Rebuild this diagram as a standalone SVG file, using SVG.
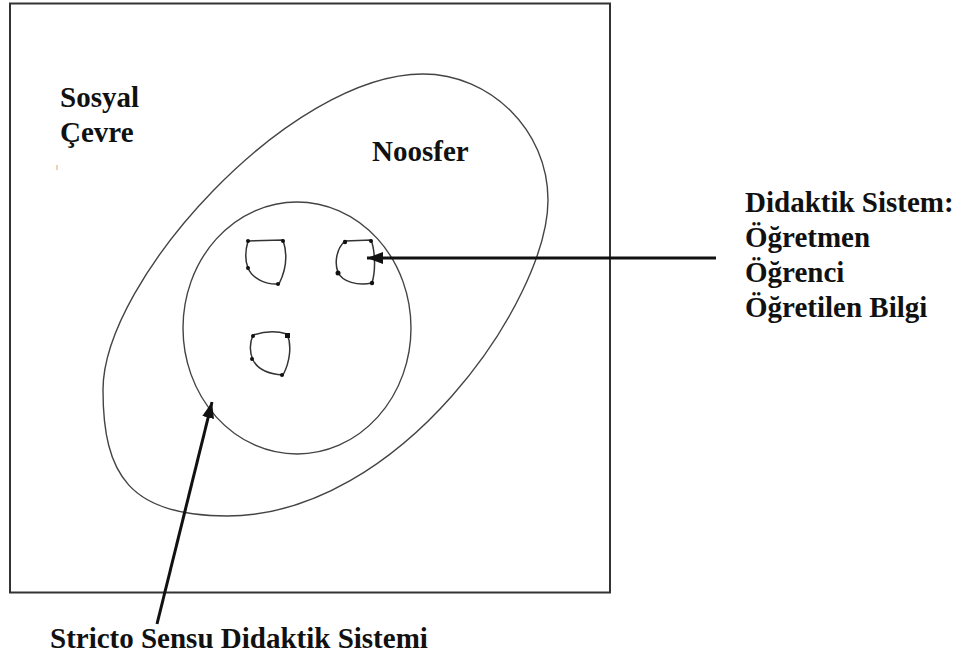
<svg xmlns="http://www.w3.org/2000/svg" width="960" height="659" viewBox="0 0 960 659">
<style>
.lbl{font-family:"Liberation Serif","Times New Roman",serif;font-weight:bold;font-size:29px;fill:#111}
.curve{fill:none;stroke:#444;stroke-width:1.4}
.blob{fill:none;stroke:#333;stroke-width:1.5}
.dot{fill:#111}
.arrow{fill:none;stroke:#111;stroke-width:3}
</style>
<defs>
<marker id="ah" viewBox="0 0 16 12" refX="16" refY="6" markerWidth="16" markerHeight="12" markerUnits="userSpaceOnUse" orient="auto">
<path d="M0,0 L16,6 L0,12 Z" fill="#111"/>
</marker>
</defs>
<rect width="960" height="659" fill="#fff"/>
<g id="frame"><rect x="10" y="3.5" width="600" height="589" fill="none" stroke="#333" stroke-width="2"/></g>
<g id="sosyal-cevre">
<text class="lbl" x="60" y="107">Sosyal</text>
<text class="lbl" x="60" y="142">Çevre</text>
<line x1="57" y1="165" x2="57" y2="170" stroke="#e8a060" stroke-width="1"/>
</g>
<g id="noosfer">
<path class="curve" d="M423,74 C490,74 548,130 548,200 C548,300 400,516 227,516 C130,516 103,475 103,390 C103,280 290,74 423,74 Z"/>
<text class="lbl" x="372" y="161">Noosfer</text>
</g>
<g id="stricto-sensu">
<ellipse class="curve" cx="297" cy="328" rx="114" ry="126"/>
</g>
<g id="ogretmen">
<path class="blob" d="M248,241 L283,240 C287,252 287,268 279,284 C265,285 252,278 248,268 C244,258 246,248 248,241 Z"/>
<circle class="dot" cx="248" cy="241" r="2"/><circle class="dot" cx="283" cy="241" r="2"/><circle class="dot" cx="248" cy="268" r="2"/><circle class="dot" cx="278" cy="284" r="2"/>
</g>
<g id="ogrenci">
<path class="blob" d="M345,241 L371,240 C375,250 376,270 372,283 C358,286 342,282 338,272 C334,262 337,248 345,241 Z"/>
<circle class="dot" cx="345" cy="242" r="2.2"/><circle class="dot" cx="371" cy="241" r="2"/><circle class="dot" cx="338" cy="273" r="2.5"/><circle class="dot" cx="372" cy="283" r="2.2"/>
</g>
<g id="ogretilen-bilgi">
<path class="blob" d="M253,335 C265,331 278,331 287,334 C292,345 290,362 283,375 C268,374 258,370 253,360 C249,352 250,342 253,335 Z"/>
<circle class="dot" cx="253" cy="336" r="2"/><rect class="dot" x="285" y="333" width="5" height="5"/><circle class="dot" cx="252" cy="359" r="2"/><circle class="dot" cx="282" cy="375" r="2"/>
</g>
<g id="didaktik-label">
<text class="lbl" x="745" y="212">Didaktik Sistem:</text>
<text class="lbl" x="745" y="247">Öğretmen</text>
<text class="lbl" x="745" y="282">Öğrenci</text>
<text class="lbl" x="745" y="317">Öğretilen Bilgi</text>
</g>
<g id="stricto-label">
<text class="lbl" x="50" y="648">Stricto Sensu Didaktik Sistemi</text>
</g>
<g id="connectors">
<line class="arrow" x1="716" y1="258" x2="367" y2="258" marker-end="url(#ah)"/>
<line class="arrow" x1="157" y1="624" x2="212" y2="402" marker-end="url(#ah)"/>
</g>
</svg>
